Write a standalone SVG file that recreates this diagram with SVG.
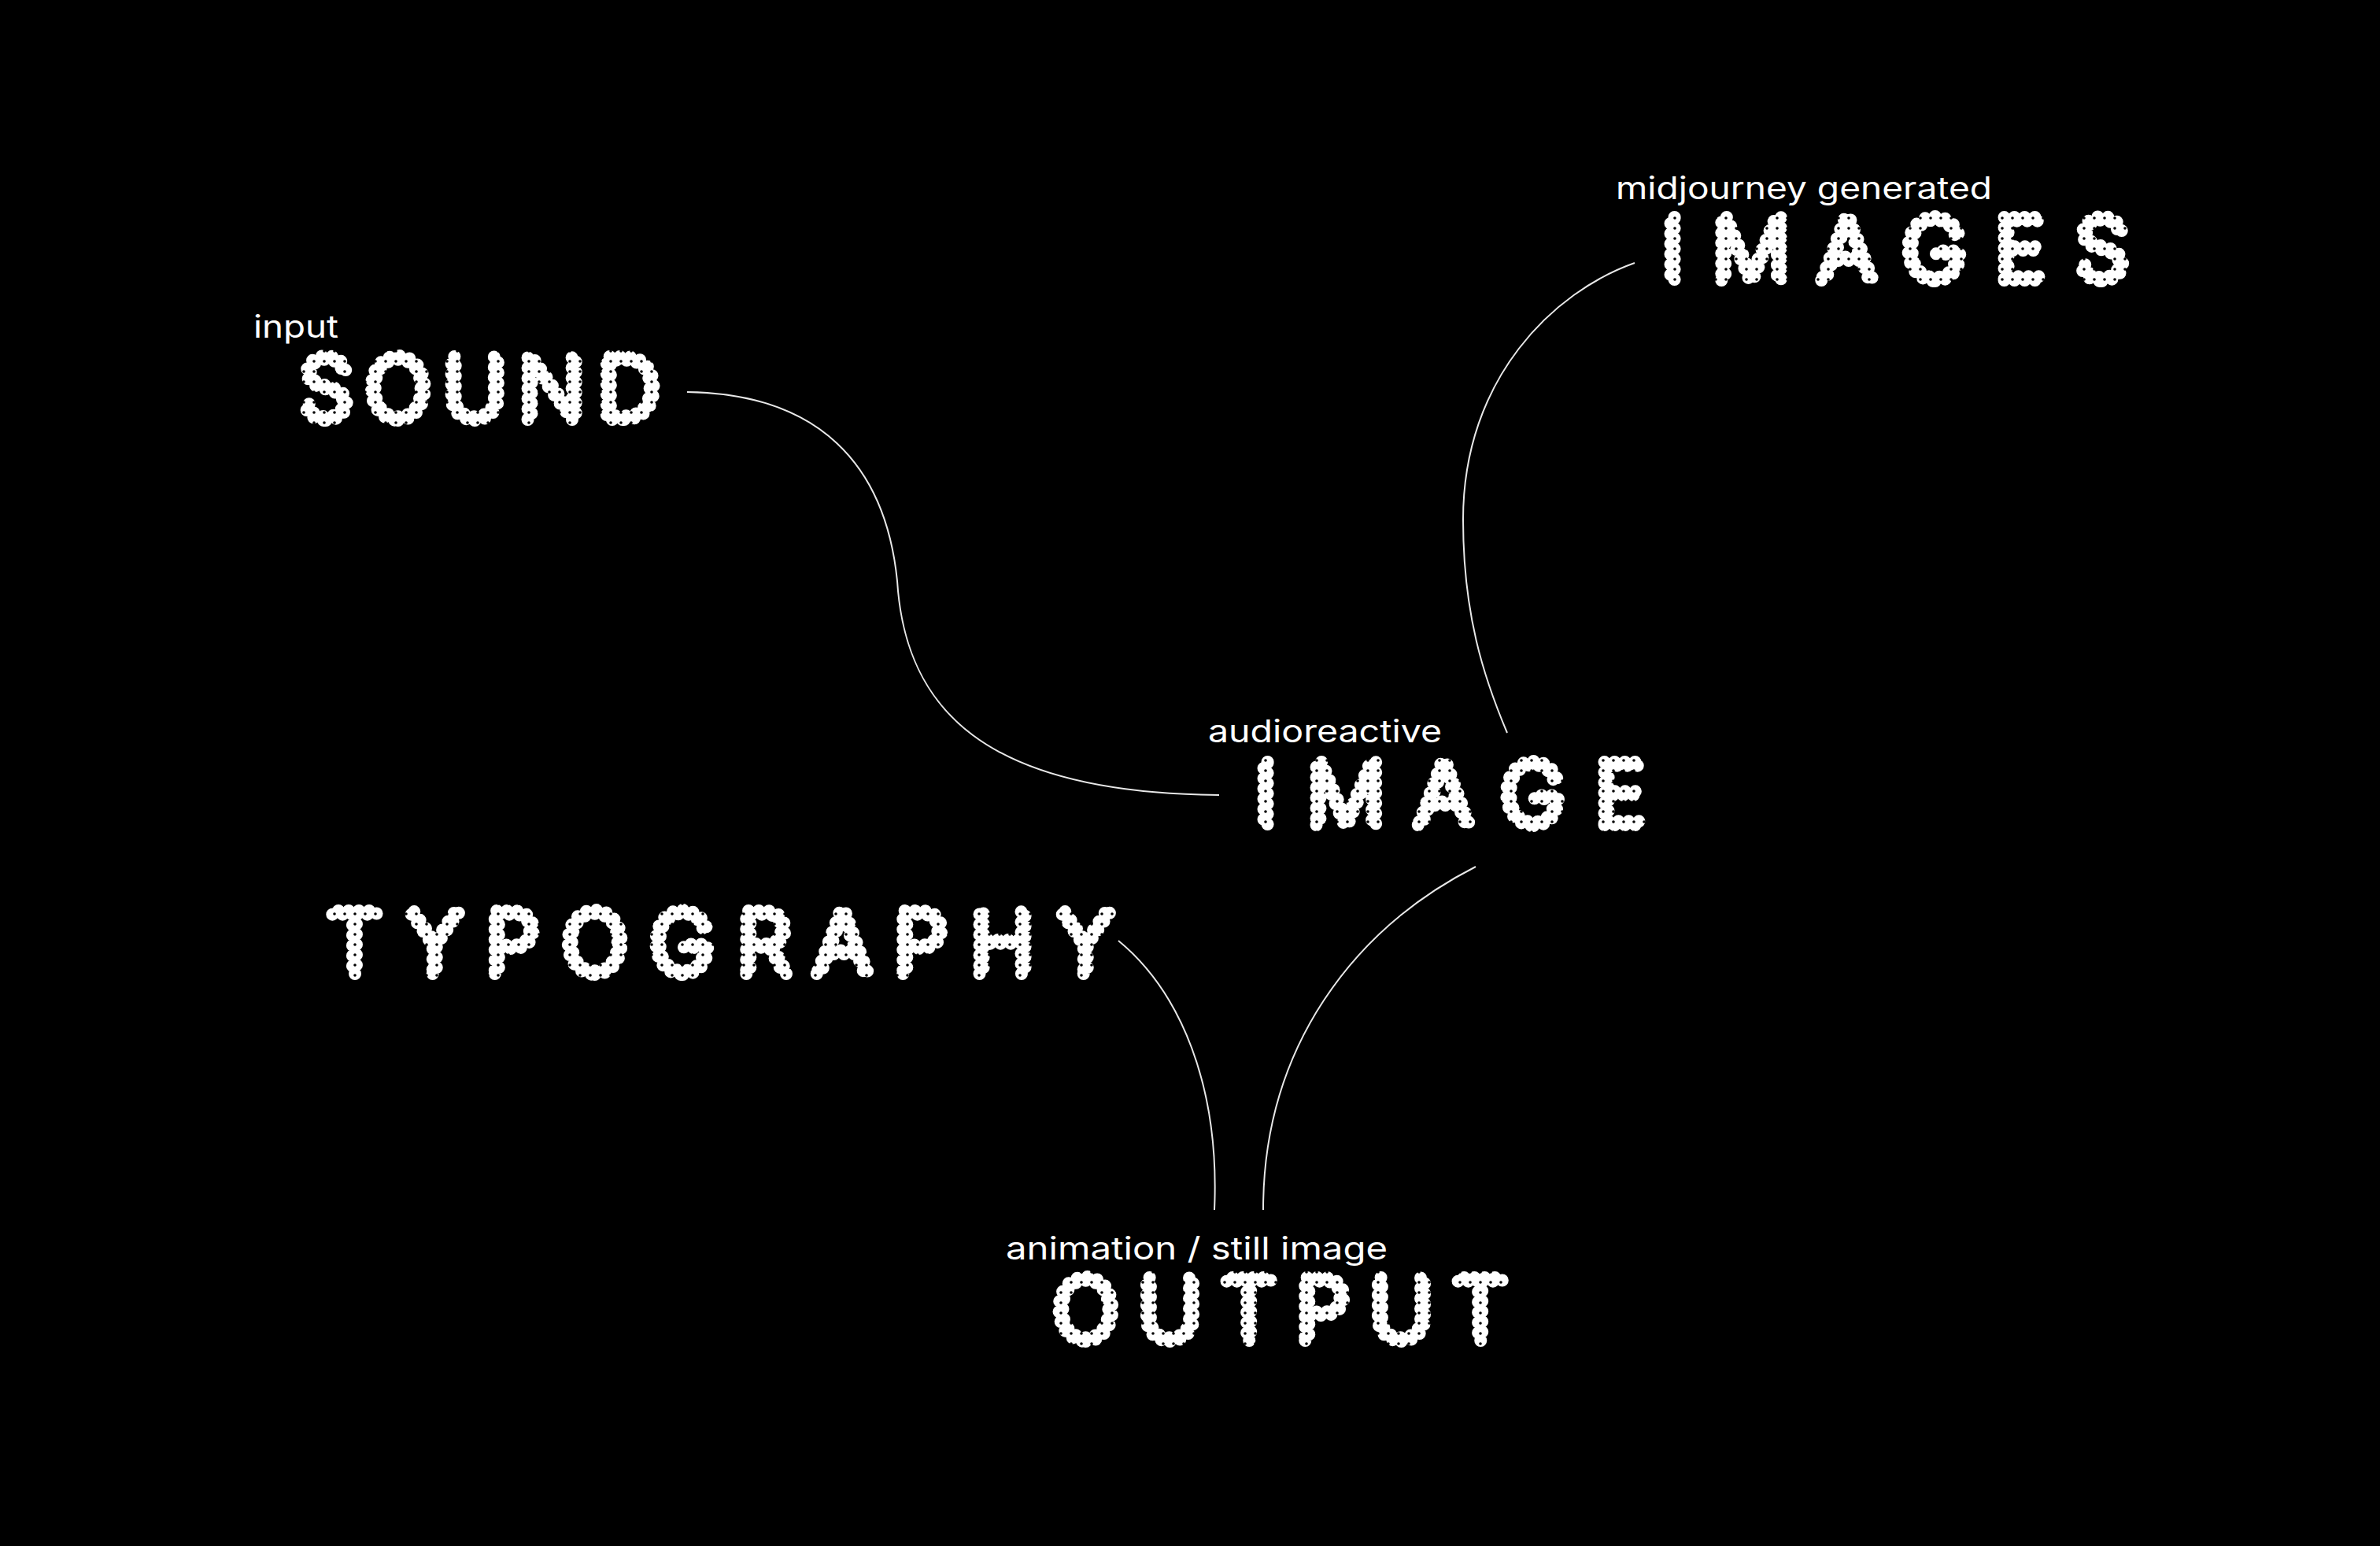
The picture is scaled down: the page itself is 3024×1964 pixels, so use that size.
<svg xmlns="http://www.w3.org/2000/svg" width="3024" height="1964" viewBox="0 0 3024 1964">
<defs>
<pattern id="speck" x="0" y="0" width="13" height="13" patternUnits="userSpaceOnUse">
<rect width="13" height="13" fill="#fff"/>
<circle cx="9" cy="4" r="1.8" fill="#000"/>
</pattern>
</defs>
<style>
.bg{fill:#000}
.sub{font-family:Inter,"Liberation Sans",sans-serif;font-size:39px;font-weight:400;fill:#fff}
.big{font-family:Inter,"DejaVu Sans",sans-serif;font-size:110px;font-weight:200;fill:none;stroke:url(#speck);stroke-width:16;stroke-linecap:round;stroke-linejoin:round;stroke-dasharray:0 13}
.link{fill:none;stroke:#e8e8e8;stroke-width:2}
</style>
<rect class="bg" x="0" y="0" width="3024" height="1964"/>
<g id="connectors">
<path class="link" d="M 873 498 C 1040 500, 1125 590, 1140 738 C 1150 900, 1250 1008, 1549 1010"/>
<path class="link" d="M 2077 334 C 1975 370, 1859 480, 1859 660 C 1859 780, 1885 860, 1915 931"/>
<path class="link" d="M 1421 1195 C 1500 1260, 1550 1380, 1543 1537"/>
<path class="link" d="M 1875 1101 C 1720 1180, 1605 1330, 1605 1537"/>
</g>
<g id="node-sound">
<text class="sub" x="322" y="429" textLength="108" lengthAdjust="spacingAndGlyphs">input</text>
<text class="big" x="380" y="533" textLength="458">SOUND</text>
</g>
<g id="node-images">
<text class="sub" x="2053" y="253" textLength="478" lengthAdjust="spacingAndGlyphs">midjourney generated</text>
<text class="big" x="2111" y="356" textLength="594">IMAGES</text>
</g>
<g id="node-image">
<text class="sub" x="1535" y="943" textLength="297" lengthAdjust="spacingAndGlyphs">audioreactive</text>
<text class="big" x="1594" y="1048" textLength="498">IMAGE</text>
</g>
<g id="node-typography">
<text class="big" x="416" y="1237" textLength="999">TYPOGRAPHY</text>
</g>
<g id="node-output">
<text class="sub" x="1278" y="1600" textLength="485" lengthAdjust="spacingAndGlyphs">animation / still image</text>
<text class="big" x="1338" y="1703" textLength="577">OUTPUT</text>
</g>
</svg>
